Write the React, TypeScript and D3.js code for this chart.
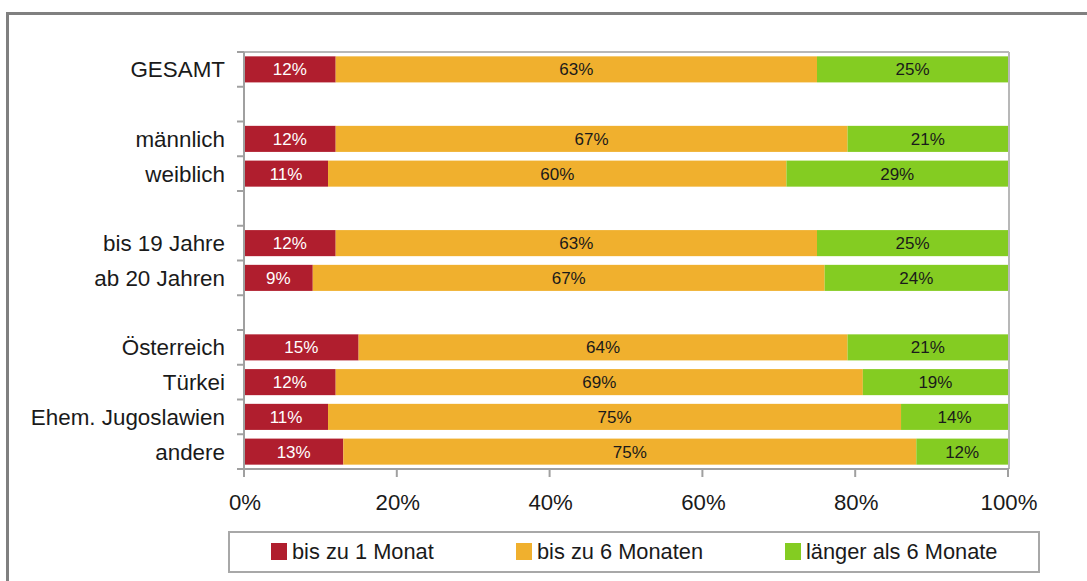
import React from 'react';
import * as d3 from 'd3';

// rows of the chart; empty ones are the gaps between groups
const rows = ['GESAMT', 'gap1', 'männlich', 'weiblich', 'gap2', 'bis 19 Jahre', 'ab 20 Jahren', 'gap3', 'Österreich', 'Türkei', 'Ehem. Jugoslawien', 'andere'];
const categories = ['GESAMT', 'männlich', 'weiblich', 'bis 19 Jahre', 'ab 20 Jahren', 'Österreich', 'Türkei', 'Ehem. Jugoslawien', 'andere'];
const bis1Monat = [12, 12, 11, 12, 9, 15, 12, 11, 13];
const bis6Monaten = [63, 67, 60, 63, 67, 64, 69, 75, 75];
const laenger6 = [25, 21, 29, 25, 24, 21, 19, 14, 12];
const seriesNames = ['bis zu 1 Monat', 'bis zu 6 Monaten', 'länger als 6 Monate'];
const colors = ['#B01E2E', '#F0B02E', '#84CC22'];
const labelColors = ['#ffffff', '#1a1a1a', '#1a1a1a'];
const xTicks = [0, 20, 40, 60, 80, 100];

const W = 1087;
const H = 581;
const left = 244, right = 1008, top = 52, bottom = 469;
const font = 'Liberation Sans, Arial, sans-serif';

export default function App() {
  const x = d3.scaleLinear().domain([0, 100]).range([left, right]);
  const y = d3.scaleBand().domain(rows).range([top, bottom]).paddingInner(0.25).paddingOuter(0.125);
  const step = y.step();

  const table = categories.map((c, i) => ({ cat: c, a: bis1Monat[i], b: bis6Monaten[i], c: laenger6[i] }));
  const stack = d3.stack<any>().keys(['a', 'b', 'c'])(table);

  const boundaries = d3.range(rows.length + 1).map(i => top + i * step);

  const legendX = [271, 516, 785];

  return (
    <svg width={W} height={H} style={{ position: 'absolute', left: 0, top: 0, background: '#fff' }} fontFamily={font}>
      {/* outer frame */}
      <rect x={7.5} y={13.5} width={W + 20} height={H + 20} fill="none" stroke="#808080" strokeWidth={3} />

      {/* plot border */}
      <line x1={left} x2={right + 1} y1={top} y2={top} stroke="#b8b8b8" strokeWidth={2} />
      <line x1={right + 1} x2={right + 1} y1={top} y2={bottom} stroke="#b8b8b8" strokeWidth={2} />

      {stack.map((s, si) => (
        <g key={si}>
          {s.map((d, i) => (
            <g key={i}>
              <rect x={x(d[0])} y={y(d.data.cat)} width={x(d[1]) - x(d[0])} height={y.bandwidth()} fill={colors[si]} />
              <text x={(x(d[0]) + x(d[1])) / 2} y={(y(d.data.cat) as number) + y.bandwidth() / 2 + 6}
                textAnchor="middle" fontSize={17} fill={labelColors[si]}>{d[1] - d[0]}%</text>
            </g>
          ))}
        </g>
      ))}

      {/* y axis */}
      <line x1={left} x2={left} y1={top} y2={bottom + 8} stroke="#a0a0a0" strokeWidth={2} />
      {boundaries.map((b, i) => (
        <line key={i} x1={left - 7} x2={left} y1={b} y2={b} stroke="#a0a0a0" strokeWidth={2} />
      ))}
      {categories.map(c => (
        <text key={c} x={225} y={(y(c) as number) + y.bandwidth() / 2 + 8} textAnchor="end" fontSize={22.4} fill="#1a1a1a">{c}</text>
      ))}

      {/* x axis */}
      <line x1={left - 7} x2={right + 1} y1={bottom} y2={bottom} stroke="#a0a0a0" strokeWidth={2} />
      {xTicks.map(t => (
        <g key={t}>
          <line x1={x(t)} x2={x(t)} y1={bottom} y2={bottom + 8} stroke="#a0a0a0" strokeWidth={2} />
          <text x={x(t) + 1} y={510} textAnchor="middle" fontSize={22.2} fill="#1a1a1a">{t}%</text>
        </g>
      ))}

      {/* legend */}
      <rect x={229} y={532} width={810} height={40} fill="#fff" stroke="#a8a8a8" strokeWidth={2} />
      {seriesNames.map((n, i) => (
        <g key={n}>
          <rect x={legendX[i]} y={543} width={16} height={17} fill={colors[i]} />
          <text x={legendX[i] + 21} y={559} fontSize={21.8} fill="#1a1a1a">{n}</text>
        </g>
      ))}
    </svg>
  );
}
